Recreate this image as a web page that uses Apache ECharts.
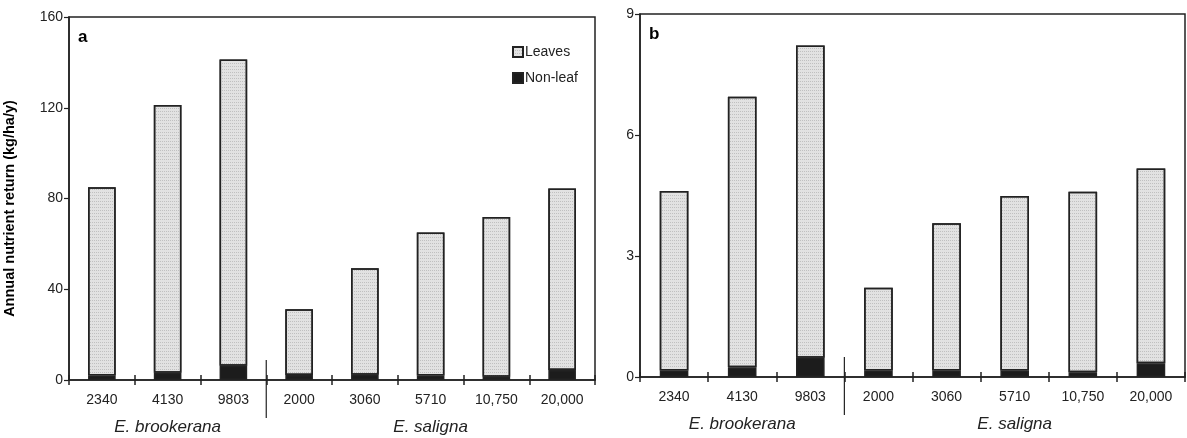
<!DOCTYPE html>
<html><head><meta charset="utf-8">
<script src="https://cdn.jsdelivr.net/npm/echarts@6/dist/echarts.min.js"></script>
<style>html,body{margin:0;padding:0;background:#fff}#c{width:1187px;height:438px}</style>
</head><body><div id="c"></div>
<script>
// ---- data ----
const categories = ['2340', '4130', '9803', '2000', '3060', '5710', '10,750', '20,000'];
const groupNames = ['E. brookerana', 'E. saligna'];
const groupRanges = [[0, 2], [3, 7]];
const leavesA  = [83, 118, 135, 29, 47, 63, 70.5, 80];
const nonleafA = [2, 3.2, 6.3, 2.2, 2.3, 2, 1.4, 4.4];
const leavesB  = [4.45, 6.71, 7.74, 2.05, 3.65, 4.33, 4.47, 4.83];
const nonleafB = [0.16, 0.24, 0.48, 0.16, 0.16, 0.16, 0.12, 0.34];
const yTicksA = [0, 40, 80, 120, 160];
const yTicksB = [0, 3, 6, 9];
const yAxisTitle = 'Annual nutrient return (kg/ha/y)';
const panelLabels = ['a', 'b'];
const legendNames = ['Leaves', 'Non-leaf'];

// ---- styles ----
const FONT = "'Liberation Sans', Arial, sans-serif";
const INK = '#222';
const LEAF = '#e2e2e2';
const NONLEAF = '#1c1c1c';

const chart = echarts.init(document.getElementById('c'), null, {renderer: 'canvas'});

function xAxisPair(gridIndex) {
  return [
    {
      type: 'category', gridIndex, position: 'bottom', data: categories, boundaryGap: true,
      axisLine: {lineStyle: {color: INK, width: 1.5}},
      axisTick: {show: true, length: 5, inside: false, lineStyle: {color: INK, width: 1.5}},
      axisLabel: {color: INK, fontSize: 14, fontFamily: FONT, margin: 13, interval: 0}
    },
    {
      type: 'category', gridIndex, position: 'bottom', offset: 0, data: categories, boundaryGap: true,
      axisLine: {show: false},
      axisTick: {show: true, length: 5, inside: true, lineStyle: {color: INK, width: 1.5}},
      axisLabel: {show: false}
    }
  ];
}
function yAxis(gridIndex, ticks) {
  return {
    type: 'value', gridIndex,
    min: ticks[0], max: ticks[ticks.length - 1], interval: ticks[1] - ticks[0],
    axisLine: {show: true, lineStyle: {color: INK, width: 1.5}},
    axisTick: {show: true, length: 5, lineStyle: {color: INK, width: 1.2}},
    axisLabel: {color: INK, fontSize: 14, fontFamily: FONT, margin: 6},
    splitLine: {show: false}
  };
}
const stipple = {symbol: 'rect', symbolSize: 1, dashArrayX: [1, 1], dashArrayY: [1, 2],
  color: 'rgba(150,150,150,0.45)', rotation: 0};
const leafStyle = {color: LEAF, borderColor: INK, borderWidth: 1.5, decal: stipple};
const nonleafStyle = {color: NONLEAF, borderColor: INK, borderWidth: 1.5};

chart.setOption({
  animation: false,
  backgroundColor: '#fff',
  textStyle: {fontFamily: FONT},
  grid: [
    {left: 69, top: 17, width: 526, height: 363, show: true, borderColor: INK, borderWidth: 1.5, backgroundColor: 'transparent'},
    {left: 640, top: 14, width: 545, height: 363, show: true, borderColor: INK, borderWidth: 1.5, backgroundColor: 'transparent'}
  ],
  legend: {
    data: legendNames, orient: 'vertical', left: 507, top: 40, itemGap: 12,
    itemWidth: 10, itemHeight: 10, icon: 'rect', selectedMode: false,
    textStyle: {color: INK, fontSize: 14, fontFamily: FONT, padding: [0, 0, 0, -3]}
  },
  xAxis: [...xAxisPair(0), ...xAxisPair(1)],
  yAxis: [yAxis(0, yTicksA), yAxis(1, yTicksB)],
  series: [
    {name: 'Non-leaf', type: 'bar', stack: 'a', xAxisIndex: 0, yAxisIndex: 0, barWidth: '42%', data: nonleafA, itemStyle: nonleafStyle},
    {name: 'Leaves', type: 'bar', stack: 'a', xAxisIndex: 0, yAxisIndex: 0, barWidth: '42%', data: leavesA, itemStyle: leafStyle},
    {name: 'Non-leaf', type: 'bar', stack: 'b', xAxisIndex: 2, yAxisIndex: 1, barWidth: '42%', data: nonleafB, itemStyle: nonleafStyle},
    {name: 'Leaves', type: 'bar', stack: 'b', xAxisIndex: 2, yAxisIndex: 1, barWidth: '42%', data: leavesB, itemStyle: leafStyle}
  ]
});

// ---- annotations placed through the axes' own scales ----
function buildGraphics() {
  const g = [];
  const panels = [{xi: 0, yi: 0, ticks: yTicksA}, {xi: 2, yi: 1, ticks: yTicksB}];
  panels.forEach((p, pi) => {
    const cx = i => chart.convertToPixel({xAxisIndex: p.xi}, i);
    const y0 = chart.convertToPixel({yAxisIndex: p.yi}, p.ticks[0]);
    const yTop = chart.convertToPixel({yAxisIndex: p.yi}, p.ticks[p.ticks.length - 1]);
    // separator between species groups
    const sepX = (cx(groupRanges[0][1]) + cx(groupRanges[1][0])) / 2;
    g.push({type: 'line', shape: {x1: sepX, y1: y0 - 20, x2: sepX, y2: y0 + 38},
      style: {stroke: INK, lineWidth: 1.2}, z: 10});
    // species names
    groupNames.forEach((nm, k) => {
      const mid = (cx(groupRanges[k][0]) + cx(groupRanges[k][1])) / 2;
      g.push({type: 'text', x: mid, y: y0 + 47, style: {text: nm, fill: INK, fontSize: 17,
        fontStyle: 'italic', fontFamily: FONT, align: 'center', verticalAlign: 'middle'}});
    });
    // panel letter
    const gl = cx(0) - (cx(1) - cx(0)) / 2;
    g.push({type: 'text', x: gl + 9, y: yTop + 20, style: {text: panelLabels[pi], fill: '#000',
      fontSize: 17, fontWeight: 'bold', fontFamily: FONT, align: 'left', verticalAlign: 'middle'}});
  });
  // y-axis title for panel a
  const yA0 = chart.convertToPixel({yAxisIndex: 0}, yTicksA[0]);
  const yA1 = chart.convertToPixel({yAxisIndex: 0}, yTicksA[yTicksA.length - 1]);
  g.push({type: 'text', x: 10, y: (yA0 + yA1) / 2 + 10, rotation: Math.PI / 2,
    style: {text: yAxisTitle, fill: '#000', fontSize: 14.5, fontWeight: 'bold',
      fontFamily: FONT, align: 'center', verticalAlign: 'middle'}});
  return g;
}
chart.setOption({graphic: buildGraphics()});
</script>
</body></html>
